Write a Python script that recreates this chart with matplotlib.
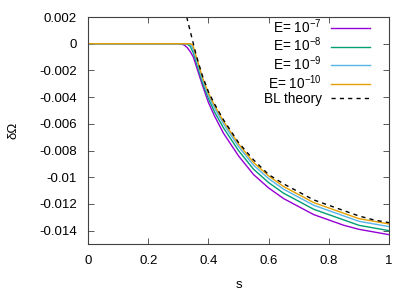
import matplotlib
matplotlib.use("Agg")
import matplotlib.pyplot as plt
from matplotlib.ticker import FuncFormatter

plt.rcParams['font.family'] = ['Liberation Sans', 'DejaVu Sans']
plt.rcParams['mathtext.fontset'] = 'custom'
plt.rcParams['mathtext.rm'] = 'Liberation Sans'
plt.rcParams['mathtext.it'] = 'Liberation Sans'

# ---- data ----
s_e7 = [0.0, 0.30, 0.31, 0.32, 0.33, 0.34, 0.35, 0.36, 0.38, 0.40, 0.42, 0.45, 0.50, 0.55, 0.60, 0.65, 0.70, 0.75, 0.80, 0.85, 0.90, 0.95, 1.00]
w_e7 = [0.0, 0.0, -0.00003, -0.0001, -0.0003, -0.0006, -0.0010, -0.0017, -0.0031, -0.0044, -0.0054, -0.0067, -0.0084, -0.0098, -0.0108, -0.0116, -0.0122, -0.0128, -0.0132, -0.0136, -0.0139, -0.0141, -0.0143]

s_e8 = [0.0, 0.32, 0.33, 0.34, 0.35, 0.36, 0.38, 0.40, 0.42, 0.45, 0.50, 0.55, 0.60, 0.65, 0.70, 0.75, 0.80, 0.85, 0.90, 0.95, 1.00]
w_e8 = [0.0, 0.0, -0.00003, -0.0002, -0.0007, -0.0014, -0.0029, -0.0041, -0.0051, -0.0063, -0.0080, -0.0094, -0.0104, -0.0112, -0.0118, -0.0124, -0.0128, -0.0132, -0.0136, -0.0138, -0.0140]

s_e9 = [0.0, 0.33, 0.34, 0.345, 0.35, 0.36, 0.38, 0.40, 0.42, 0.45, 0.50, 0.55, 0.60, 0.65, 0.70, 0.75, 0.80, 0.85, 0.90, 0.95, 1.00]
w_e9 = [0.0, 0.0, -0.00005, -0.0002, -0.0005, -0.0012, -0.0027, -0.0039, -0.0048, -0.0060, -0.0077, -0.0091, -0.0101, -0.0109, -0.0115, -0.0121, -0.0125, -0.0129, -0.0133, -0.0135, -0.0137]

s_e10 = [0.0, 0.34, 0.348, 0.355, 0.36, 0.38, 0.40, 0.42, 0.45, 0.50, 0.55, 0.60, 0.65, 0.70, 0.75, 0.80, 0.85, 0.90, 0.95, 1.00]
w_e10 = [0.0, 0.0, -0.0001, -0.0006, -0.0010, -0.0025, -0.0037, -0.0046, -0.0058, -0.0075, -0.0089, -0.0099, -0.0107, -0.0113, -0.0119, -0.0123, -0.0127, -0.0131, -0.0133, -0.0135]

s_bl = [0.328, 0.34, 0.35, 0.36, 0.38, 0.40, 0.42, 0.45, 0.50, 0.55, 0.60, 0.65, 0.70, 0.75, 0.80, 0.85, 0.90, 0.95, 1.00]
w_bl = [0.0020, 0.0009, 0.0, -0.0009, -0.0024, -0.0036, -0.0045, -0.0057, -0.0074, -0.0087, -0.0098, -0.0105, -0.0111, -0.0117, -0.0121, -0.0125, -0.0129, -0.0132, -0.0134]

labels = [r"E= 10$^{-7}$", r"E= 10$^{-8}$", r"E= 10$^{-9}$", r"E= 10$^{-10}$", "BL theory"]
colors = ["#9400d3", "#009e73", "#56b4e9", "#e69f00", "black"]

xticks = [0, 0.2, 0.4, 0.6, 0.8, 1.0]
yticks = [0.002, 0, -0.002, -0.004, -0.006, -0.008, -0.01, -0.012, -0.014]

FS = 9.5
LFS = 9.8

fig = plt.figure(figsize=(4.15, 2.91), dpi=100)
ax = fig.add_axes([88/415, 1-244/291, (389-88)/415, (244-17)/291])

series = [(s_e7, w_e7), (s_e8, w_e8), (s_e9, w_e9), (s_e10, w_e10)]
for (sx, wy), c, lab in zip(series, colors[:4], labels[:4]):
    ax.plot(sx, wy, color=c, lw=1.0, label=lab)
ax.plot(s_bl, w_bl, color="black", lw=1.0, ls=(0, (3, 3)), label=labels[4])

ax.set_xlim(0, 1)
ax.set_ylim(-0.015, 0.002)
ax.set_xticks(xticks)
ax.set_yticks(yticks)
fmt = FuncFormatter(lambda v, p: ("%g" % round(v, 6)) if abs(v) > 1e-12 else "0")
ax.xaxis.set_major_formatter(fmt)
ax.yaxis.set_major_formatter(fmt)
ax.tick_params(direction="in", top=True, right=True, length=4, width=0.6,
               labelsize=FS, color="#404040", pad=8)
for sp in ax.spines.values():
    sp.set_color("#404040")
    sp.set_linewidth(0.8)

ax.set_xlabel("s", fontsize=FS)
ax.set_ylabel("δΩ", fontsize=FS)
ax.yaxis.set_label_coords(-0.226, 0.5)
ax.xaxis.set_label_coords(0.5, -0.155)

leg = ax.legend(loc="upper right", bbox_to_anchor=(0.965, 1.035), frameon=False,
                markerfirst=False, fontsize=LFS, handlelength=2.9,
                labelspacing=0.0, handletextpad=0.65, borderaxespad=0.2)

fig.savefig("out.png", dpi=100)
